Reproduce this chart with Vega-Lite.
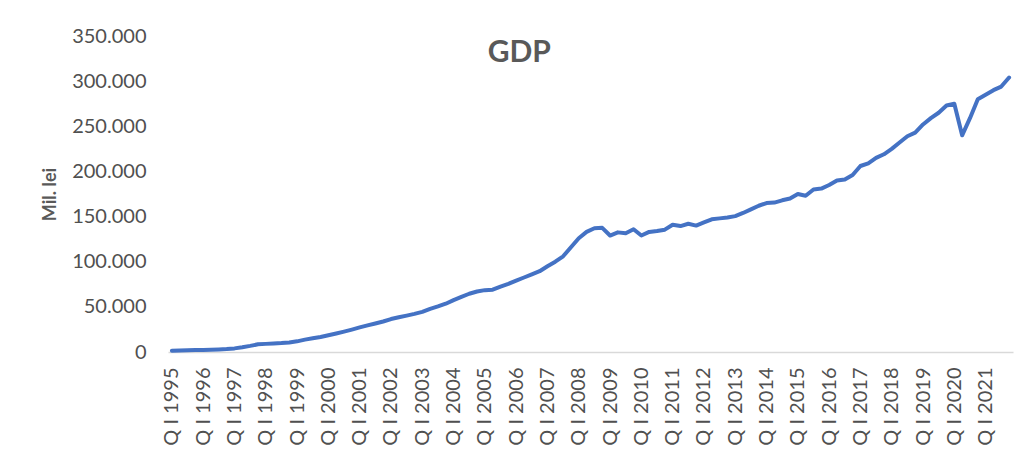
{
  "$schema": "https://vega.github.io/schema/vega-lite/v6.json",
  "width": 845,
  "height": 316,
  "autosize": {"type": "none"},
  "padding": {"left": 168, "top": 36, "right": 14, "bottom": 111},
  "background": "white",
  "title": {
    "text": "GDP",
    "fontSize": 30,
    "fontWeight": "bold",
    "font": "Lato",
    "color": "#595959",
    "anchor": "middle",
    "frame": "bounds",
    "baseline": "alphabetic",
    "offset": -66,
    "dx": -8
  },
  "config": {
    "locale": {"number": {"decimal": ",", "thousands": ".", "grouping": [3], "currency": ["", ""]}},
    "view": {"stroke": null},
    "font": "Lato"
  },
  "data": {
    "values": [
      {"q": "Q I 1995", "v": 1500}, {"q": "Q II 1995", "v": 1700}, {"q": "Q III 1995", "v": 1900}, {"q": "Q IV 1995", "v": 2100},
      {"q": "Q I 1996", "v": 2300}, {"q": "Q II 1996", "v": 2500}, {"q": "Q III 1996", "v": 2800}, {"q": "Q IV 1996", "v": 3200},
      {"q": "Q I 1997", "v": 4000}, {"q": "Q II 1997", "v": 5300}, {"q": "Q III 1997", "v": 6800}, {"q": "Q IV 1997", "v": 8500},
      {"q": "Q I 1998", "v": 9000}, {"q": "Q II 1998", "v": 9400}, {"q": "Q III 1998", "v": 9900}, {"q": "Q IV 1998", "v": 10600},
      {"q": "Q I 1999", "v": 11800}, {"q": "Q II 1999", "v": 13700}, {"q": "Q III 1999", "v": 15200}, {"q": "Q IV 1999", "v": 16600},
      {"q": "Q I 2000", "v": 18500}, {"q": "Q II 2000", "v": 20500}, {"q": "Q III 2000", "v": 22600}, {"q": "Q IV 2000", "v": 24800},
      {"q": "Q I 2001", "v": 27200}, {"q": "Q II 2001", "v": 29500}, {"q": "Q III 2001", "v": 31600}, {"q": "Q IV 2001", "v": 33800},
      {"q": "Q I 2002", "v": 36500}, {"q": "Q II 2002", "v": 38500}, {"q": "Q III 2002", "v": 40300}, {"q": "Q IV 2002", "v": 42200},
      {"q": "Q I 2003", "v": 44500}, {"q": "Q II 2003", "v": 47800}, {"q": "Q III 2003", "v": 50500}, {"q": "Q IV 2003", "v": 53500},
      {"q": "Q I 2004", "v": 57500}, {"q": "Q II 2004", "v": 61000}, {"q": "Q III 2004", "v": 64500}, {"q": "Q IV 2004", "v": 67000},
      {"q": "Q I 2005", "v": 68500}, {"q": "Q II 2005", "v": 69000}, {"q": "Q III 2005", "v": 72500}, {"q": "Q IV 2005", "v": 75500},
      {"q": "Q I 2006", "v": 79000}, {"q": "Q II 2006", "v": 82500}, {"q": "Q III 2006", "v": 86000}, {"q": "Q IV 2006", "v": 89500},
      {"q": "Q I 2007", "v": 95000}, {"q": "Q II 2007", "v": 100000}, {"q": "Q III 2007", "v": 106000}, {"q": "Q IV 2007", "v": 116000},
      {"q": "Q I 2008", "v": 126000}, {"q": "Q II 2008", "v": 133000}, {"q": "Q III 2008", "v": 137000}, {"q": "Q IV 2008", "v": 137500},
      {"q": "Q I 2009", "v": 129000}, {"q": "Q II 2009", "v": 132500}, {"q": "Q III 2009", "v": 131500}, {"q": "Q IV 2009", "v": 136000},
      {"q": "Q I 2010", "v": 129000}, {"q": "Q II 2010", "v": 133000}, {"q": "Q III 2010", "v": 134000}, {"q": "Q IV 2010", "v": 135500},
      {"q": "Q I 2011", "v": 141000}, {"q": "Q II 2011", "v": 139500}, {"q": "Q III 2011", "v": 142000}, {"q": "Q IV 2011", "v": 140000},
      {"q": "Q I 2012", "v": 143500}, {"q": "Q II 2012", "v": 147000}, {"q": "Q III 2012", "v": 148000}, {"q": "Q IV 2012", "v": 149000},
      {"q": "Q I 2013", "v": 150500}, {"q": "Q II 2013", "v": 154000}, {"q": "Q III 2013", "v": 158000}, {"q": "Q IV 2013", "v": 162000},
      {"q": "Q I 2014", "v": 165000}, {"q": "Q II 2014", "v": 165500}, {"q": "Q III 2014", "v": 168000}, {"q": "Q IV 2014", "v": 170000},
      {"q": "Q I 2015", "v": 175000}, {"q": "Q II 2015", "v": 173000}, {"q": "Q III 2015", "v": 180000}, {"q": "Q IV 2015", "v": 181000},
      {"q": "Q I 2016", "v": 185000}, {"q": "Q II 2016", "v": 190000}, {"q": "Q III 2016", "v": 191000}, {"q": "Q IV 2016", "v": 196000},
      {"q": "Q I 2017", "v": 206000}, {"q": "Q II 2017", "v": 209000}, {"q": "Q III 2017", "v": 215000}, {"q": "Q IV 2017", "v": 219000},
      {"q": "Q I 2018", "v": 225000}, {"q": "Q II 2018", "v": 232000}, {"q": "Q III 2018", "v": 239000}, {"q": "Q IV 2018", "v": 243000},
      {"q": "Q I 2019", "v": 252000}, {"q": "Q II 2019", "v": 259000}, {"q": "Q III 2019", "v": 265000}, {"q": "Q IV 2019", "v": 273000},
      {"q": "Q I 2020", "v": 275000}, {"q": "Q II 2020", "v": 240000}, {"q": "Q III 2020", "v": 259000}, {"q": "Q IV 2020", "v": 280000},
      {"q": "Q I 2021", "v": 285000}, {"q": "Q II 2021", "v": 290000}, {"q": "Q III 2021", "v": 294000}, {"q": "Q IV 2021", "v": 304000}
    ]
  },
  "mark": {"type": "line", "color": "#4472C4", "strokeWidth": 4, "strokeJoin": "round", "strokeCap": "round"},
  "encoding": {
    "x": {
      "field": "q",
      "type": "ordinal",
      "sort": null,
      "scale": {"type": "point", "padding": 0.5},
      "axis": {
        "title": null,
        "values": ["Q I 1995", "Q I 1996", "Q I 1997", "Q I 1998", "Q I 1999", "Q I 2000", "Q I 2001", "Q I 2002", "Q I 2003", "Q I 2004", "Q I 2005", "Q I 2006", "Q I 2007", "Q I 2008", "Q I 2009", "Q I 2010", "Q I 2011", "Q I 2012", "Q I 2013", "Q I 2014", "Q I 2015", "Q I 2016", "Q I 2017", "Q I 2018", "Q I 2019", "Q I 2020", "Q I 2021"],
        "labelAngle": -90,
        "labelFontSize": 20,
        "labelFont": "Lato",
        "labelColor": "#505050",
        "labelPadding": 15,
        "ticks": false,
        "tickSize": 0,
        "domainColor": "#d9d9d9",
        "domainWidth": 1.5,
        "grid": false,
        "labelOverlap": false
      }
    },
    "y": {
      "field": "v",
      "type": "quantitative",
      "scale": {"domain": [0, 350000], "nice": false, "zero": true},
      "axis": {
        "title": "Mil. lei",
        "titleFontSize": 18,
        "titleFont": "Lato",
        "titleFontWeight": "bold",
        "titleColor": "#595959",
        "titlePadding": 12,
        "values": [0, 50000, 100000, 150000, 200000, 250000, 300000, 350000],
        "format": ",.0f",
        "labelFontSize": 20,
        "labelFont": "Lato",
        "labelColor": "#505050",
        "labelPadding": 22,
        "ticks": false,
        "tickSize": 0,
        "domain": false,
        "grid": false
      }
    }
  }
}
